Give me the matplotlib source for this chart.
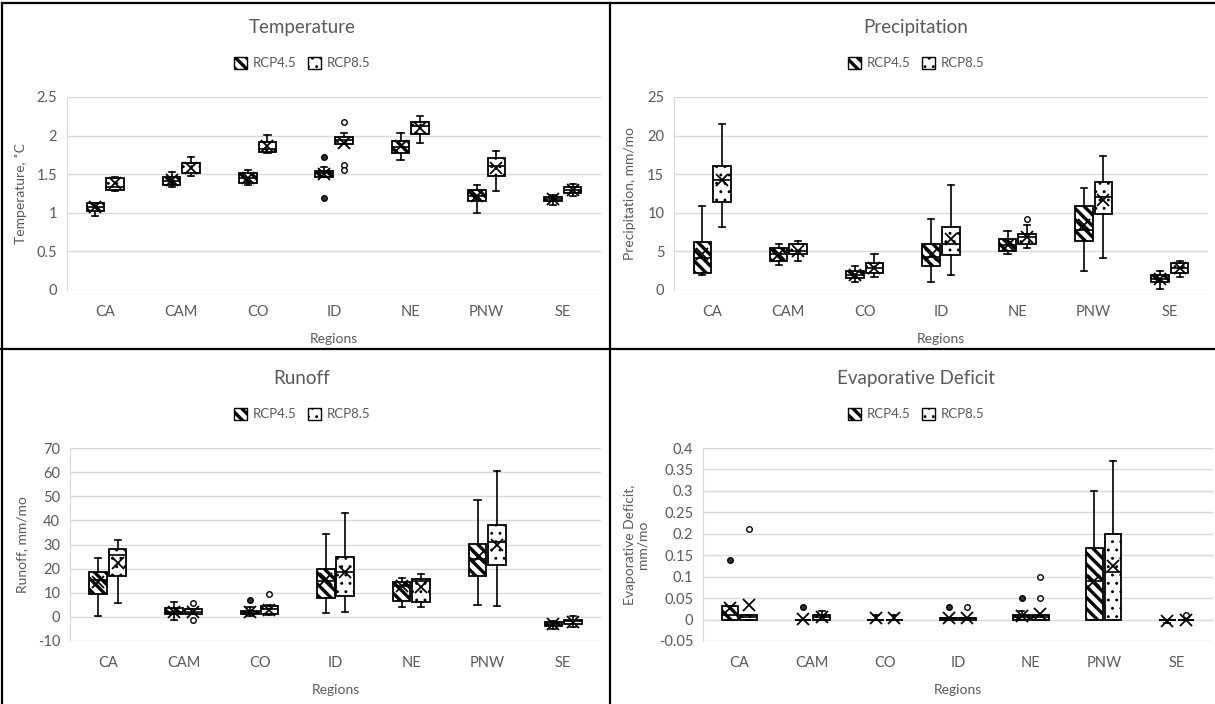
import numpy as np
import matplotlib
matplotlib.use("Agg")
import matplotlib.pyplot as plt
from matplotlib.patches import Patch
from matplotlib.lines import Line2D
from matplotlib.ticker import FuncFormatter, MultipleLocator

plt.rcParams['font.family'] = ['Lato', 'DejaVu Sans']
plt.rcParams['hatch.linewidth'] = 2.4

regions = ['CA', 'CAM', 'CO', 'ID', 'NE', 'PNW', 'SE']
series = ['RCP4.5', 'RCP8.5']

# Temperature, RCP4.5
t45_lo = [0.96, 1.33, 1.36, 1.46, 1.69, 1.00, 1.10]
t45_q1 = [1.02, 1.36, 1.39, 1.47, 1.77, 1.15, 1.15]
t45_med = [1.07, 1.41, 1.45, 1.51, 1.85, 1.22, 1.18]
t45_q3 = [1.13, 1.46, 1.51, 1.54, 1.93, 1.30, 1.21]
t45_hi = [1.13, 1.53, 1.56, 1.59, 2.03, 1.36, 1.23]
t45_mean = [1.07, 1.42, 1.45, 1.50, 1.86, 1.22, 1.18]
t45_out = [[], [], [], [1.72, 1.19], [], [], []]
# Temperature, RCP8.5
t85_lo = [1.28, 1.48, 1.77, 1.89, 1.91, 1.28, 1.22]
t85_q1 = [1.30, 1.51, 1.79, 1.89, 2.02, 1.48, 1.25]
t85_med = [1.34, 1.64, 1.83, 1.94, 2.13, 1.60, 1.30]
t85_q3 = [1.45, 1.65, 1.92, 1.98, 2.17, 1.71, 1.33]
t85_hi = [1.46, 1.72, 2.01, 2.04, 2.26, 1.80, 1.37]
t85_mean = [1.39, 1.58, 1.87, 1.91, 2.10, 1.58, 1.30]
t85_out = [[], [], [], [2.17, 1.62, 1.55], [], [], []]

# Precipitation, RCP4.5
p45_lo = [1.9, 3.2, 1.0, 1.0, 4.6, 2.5, 0.1]
p45_q1 = [2.2, 3.8, 1.6, 3.1, 5.0, 6.3, 1.0]
p45_med = [4.1, 4.7, 1.9, 4.3, 5.8, 7.8, 1.4]
p45_q3 = [6.2, 5.4, 2.5, 5.9, 6.6, 10.9, 1.9]
p45_hi = [10.9, 5.9, 3.1, 9.2, 7.7, 13.2, 2.5]
p45_mean = [4.6, 4.6, 2.0, 4.5, 5.8, 8.4, 1.4]
p45_out = [[], [], [], [], [], [], []]
# Precipitation, RCP8.5
p85_lo = [8.1, 3.8, 1.7, 1.9, 5.4, 4.1, 1.7]
p85_q1 = [11.4, 4.6, 2.2, 4.5, 5.9, 9.9, 2.2]
p85_med = [14.2, 5.1, 2.9, 6.0, 6.9, 12.0, 2.9]
p85_q3 = [16.1, 5.9, 3.5, 8.1, 7.2, 14.0, 3.5]
p85_hi = [21.5, 6.3, 4.7, 13.6, 8.4, 17.3, 3.8]
p85_mean = [14.2, 5.1, 2.9, 6.6, 6.9, 11.6, 2.9]
p85_out = [[], [], [], [], [9.2], [], []]

# Runoff, RCP4.5
r45_lo = [0.5, -1.4, 0.5, 1.5, 4.0, 5.0, -5.2]
r45_q1 = [9.4, 1.0, 1.0, 7.7, 6.7, 17.1, -3.9]
r45_med = [15.3, 2.2, 1.8, 14.9, 12.8, 24.0, -3.1]
r45_q3 = [18.4, 3.5, 2.5, 19.8, 14.4, 30.4, -2.3]
r45_hi = [24.3, 6.2, 4.0, 34.3, 16.0, 48.3, -1.6]
r45_mean = [14.4, 2.0, 1.9, 15.6, 12.6, 25.0, -3.1]
r45_out = [[], [], [7.2], [], [], [], []]
# Runoff, RCP8.5
r85_lo = [5.9, 1.1, 0.8, 1.9, 4.0, 4.5, -4.1]
r85_q1 = [17.0, 1.1, 1.1, 8.8, 6.1, 21.3, -2.8]
r85_med = [25.7, 2.2, 3.2, 18.8, 14.9, 31.2, -1.8]
r85_q3 = [28.2, 3.2, 4.4, 25.0, 15.7, 38.2, -1.1]
r85_hi = [31.8, 3.2, 5.0, 43.0, 17.8, 60.3, 0.3]
r85_mean = [22.2, 2.0, 2.9, 18.4, 12.3, 29.9, -2.0]
r85_out = [[], [5.8, -1.4], [9.4], [], [], [], []]

# Evaporative deficit, RCP4.5
e45_lo = [0.0, 0.0, 0.0, 0.0, 0.0, 0.0, -0.008]
e45_q1 = [0.0, 0.0, 0.0, 0.0, 0.0, 0.0, 0.0]
e45_med = [0.01, 0.0, 0.0, 0.003, 0.005, 0.09, 0.0]
e45_q3 = [0.031, 0.0, 0.0, 0.003, 0.01, 0.166, 0.0]
e45_hi = [0.031, 0.0, 0.01, 0.003, 0.02, 0.30, 0.0]
e45_mean = [0.028, 0.002, 0.003, 0.003, 0.008, 0.09, -0.003]
e45_out = [[0.14], [0.03], [], [0.03], [0.05], [], []]
# Evaporative deficit, RCP8.5
e85_lo = [0.0, 0.0, 0.0, 0.0, 0.0, 0.0, 0.0]
e85_q1 = [0.0, 0.0, 0.0, 0.0, 0.0, 0.0, 0.0]
e85_med = [0.005, 0.005, 0.0, 0.003, 0.005, 0.11, 0.0]
e85_q3 = [0.011, 0.01, 0.0, 0.003, 0.01, 0.20, 0.0]
e85_hi = [0.011, 0.02, 0.01, 0.003, 0.01, 0.37, 0.0]
e85_mean = [0.033, 0.005, 0.003, 0.003, 0.012, 0.124, 0.0]
e85_out = [[0.21], [], [], [0.03], [0.05, 0.1], [], [0.01]]

GREY = '#595959'
GRID = '#d9d9d9'
STRIPES = '\\\\\\'
DOTS = '..'
W, H = 1215, 704

fig = plt.figure(figsize=(W / 100, H / 100), dpi=100)


def rect(l, t, r, b):
    return [l / W, 1 - b / H, (r - l) / W, (b - t) / H]


def stats(lo, q1, med, q3, hi, mean, out):
    return [dict(whislo=lo[i], q1=q1[i], med=med[i], q3=q3[i], whishi=hi[i],
                 mean=mean[i], fliers=out[i]) for i in range(len(lo))]


def thin_hatch(artist, lw=0.9):
    # dotted fill wants a thin hatch line, stripes want a thick one
    if hasattr(artist, 'set_hatch_linewidth'):
        artist.set_hatch_linewidth(lw)
    orig = artist.draw

    def draw(renderer):
        with plt.rc_context({'hatch.linewidth': lw}):
            orig(renderer)
    artist.draw = draw


def panel(box, title, ylabel, ylim, step, s45, s85, cx, ylab_x):
    ax = fig.add_axes(rect(*box))
    x = np.arange(len(regions))
    for st, off, hatch, face in [(s45, -0.128, STRIPES, '#333333'),
                                 (s85, 0.128, DOTS, 'white')]:
        res = ax.bxp(st, positions=x + off, widths=0.23, capwidths=0.08,
                     showmeans=True, patch_artist=True, manage_ticks=False,
                     boxprops=dict(facecolor='white', edgecolor='black', lw=1.3),
                     medianprops=dict(color='black', lw=1.2),
                     whiskerprops=dict(color='black', lw=1.2),
                     capprops=dict(color='black', lw=1.2),
                     meanprops=dict(marker='x', markeredgecolor='black',
                                    markersize=8, markeredgewidth=1.3),
                     flierprops=dict(marker='o', markerfacecolor=face,
                                     markeredgecolor='black', markersize=4,
                                     markeredgewidth=1.0))
        for b in res['boxes']:
            b.set_hatch(hatch)
            if hatch == DOTS:
                thin_hatch(b)
    ax.set_xlim(-0.5, len(regions) - 0.5)
    ax.set_ylim(*ylim)
    ax.yaxis.set_major_locator(MultipleLocator(step))
    ax.yaxis.set_major_formatter(FuncFormatter(lambda v, p: f"{round(v, 6):g}"))
    ax.set_xticks(x)
    ax.set_xticklabels(regions)
    ax.grid(axis='y', color=GRID, lw=1.0)
    ax.set_axisbelow(True)
    for s in ['top', 'right', 'bottom']:
        ax.spines[s].set_visible(False)
    ax.spines['left'].set_color(GRID)
    ax.tick_params(length=0, colors=GREY, labelsize=10.5)
    ax.tick_params(axis='y', pad=7)
    ax.tick_params(axis='x', pad=11)
    ax.set_xlabel('Regions', color=GREY, fontsize=10, labelpad=10)
    ax.set_ylabel(ylabel, color=GREY, fontsize=10, linespacing=1.1)
    ax.yaxis.set_label_coords(ylab_x, 0.5)
    top = box[1]
    fig.text(cx / W, 1 - (top - 70) / H, title, ha='center', va='center',
             color=GREY, fontsize=13.5)
    h45 = Patch(facecolor='white', edgecolor='black', hatch=STRIPES, lw=1.0)
    h85 = Patch(facecolor='white', edgecolor='black', hatch=DOTS, lw=1.0)
    leg = fig.legend([h45, h85], series, loc='center',
                     bbox_to_anchor=(cx / W, 1 - (top - 34) / H),
                     ncol=2, frameon=False, fontsize=9.5, labelcolor=GREY,
                     handlelength=1.0, handleheight=1.0, handletextpad=0.4,
                     columnspacing=0.9)
    thin_hatch(leg.get_patches()[1])
    return ax


panel((67, 97, 601, 290), 'Temperature', 'Temperature, \u02daC', (0, 2.5), 0.5,
      stats(t45_lo, t45_q1, t45_med, t45_q3, t45_hi, t45_mean, t45_out),
      stats(t85_lo, t85_q1, t85_med, t85_q3, t85_hi, t85_mean, t85_out), 302, -0.075)
panel((674, 97, 1208, 290), 'Precipitation', 'Precipitation, mm/mo', (0, 25), 5,
      stats(p45_lo, p45_q1, p45_med, p45_q3, p45_hi, p45_mean, p45_out),
      stats(p85_lo, p85_q1, p85_med, p85_q3, p85_hi, p85_mean, p85_out), 916, -0.071)
panel((70, 448, 601, 641), 'Runoff', 'Runoff, mm/mo', (-10, 70), 10,
      stats(r45_lo, r45_q1, r45_med, r45_q3, r45_hi, r45_mean, r45_out),
      stats(r85_lo, r85_q1, r85_med, r85_q3, r85_hi, r85_mean, r85_out), 302, -0.078)
panel((703, 448, 1213, 641), 'Evaporative Deficit', 'Evaporative Deficit,\nmm/mo',
      (-0.05, 0.4), 0.05,
      stats(e45_lo, e45_q1, e45_med, e45_q3, e45_hi, e45_mean, e45_out),
      stats(e85_lo, e85_q1, e85_med, e85_q3, e85_hi, e85_mean, e85_out), 916, -0.106)

# panel borders
for (x0, y0, x1, y1) in [(2, 3, W, 3), (2, 3, 2, H), (610, 3, 610, H), (0, 349, W, 349)]:
    fig.add_artist(Line2D([x0 / W, x1 / W], [1 - y0 / H, 1 - y1 / H],
                          transform=fig.transFigure, color='black', lw=1.6))

fig.savefig('out.png', dpi=100)
